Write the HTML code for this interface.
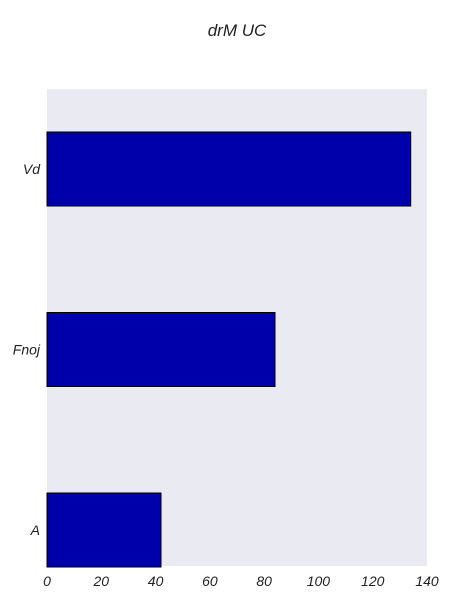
<!DOCTYPE html>
<html><head><meta charset="utf-8"><style>
body{margin:0;background:#fff;}
svg text{font-family:"Liberation Sans",sans-serif;font-style:italic;fill:#222;}
</style></head><body>
<svg width="450" height="600">
<text x="237" y="36" text-anchor="middle" font-size="17">drM UC</text>
<rect x="47" y="89" width="380" height="477" fill="#eaeaf2"/>
<g id="bars"></g><g id="ticks"></g>
</svg>
<script>
const categories=["A","Fnoj","Vd"];
const values=[42,84,134];
const xTicks=[0,20,40,60,80,100,120,140];
const x0=47,x1=427,xMax=140;
const X=v=>x0+(x1-x0)*v/xMax;
const Y=i=>530-i*180.5;
const ns="http://www.w3.org/2000/svg";
const bars=document.getElementById('bars'),ticks=document.getElementById('ticks');
categories.forEach((c,i)=>{
 const r=document.createElementNS(ns,'rect');
 r.setAttribute('x',X(0));r.setAttribute('y',Y(i)-37);
 r.setAttribute('width',X(values[i])-X(0));r.setAttribute('height',74);
 r.setAttribute('fill','#0000aa');r.setAttribute('stroke','#000');r.setAttribute('stroke-width','1');
 
 
 bars.appendChild(r);
 const t=document.createElementNS(ns,'text');
 t.setAttribute('x',40);t.setAttribute('y',Y(i)+5);t.setAttribute('text-anchor','end');t.setAttribute('font-size','14');
 t.textContent=c;
 
 
 ticks.appendChild(t);
});
xTicks.forEach(v=>{
 const t=document.createElementNS(ns,'text');
 t.setAttribute('x',X(v));t.setAttribute('y',586);t.setAttribute('text-anchor','middle');t.setAttribute('font-size','14');
 t.textContent=v;
 
 
 ticks.appendChild(t);
});
</script>
</body></html>
